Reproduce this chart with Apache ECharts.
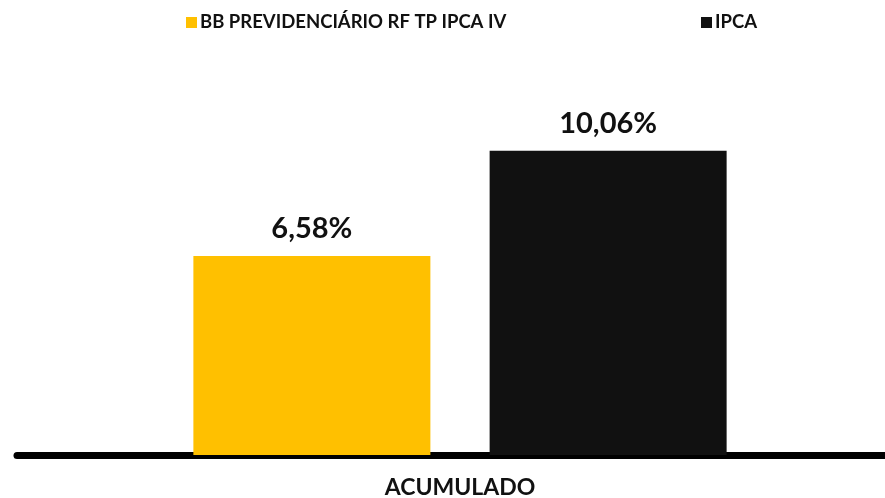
<!DOCTYPE html>
<html>
<head>
<meta charset="utf-8">
<script src="https://cdn.jsdelivr.net/npm/echarts@6/dist/echarts.min.js"></script>
<style>
  html, body { margin: 0; padding: 0; background: #fff; }
  #chart { width: 885px; height: 498px; }
</style>
</head>
<body>
<div id="chart"></div>
<script>
var categories = ["ACUMULADO"];
var seriesNames = ["BB PREVIDENCIÁRIO RF TP IPCA IV", "IPCA"];
var fundValues = [6.58];
var ipcaValues = [10.06];

var myChart = echarts.init(document.getElementById("chart"));
var font = "Lato";

var seriesLabel = {
  show: true,
  position: "top",
  distance: 13,
  color: "#111",
  fontFamily: font,
  fontWeight: "bold",
  fontSize: 29,
  formatter: function (p) {
    return p.value.toFixed(2).replace(".", ",") + "%";
  },
};

var legendText = {
  color: "#111",
  fontFamily: font,
  fontWeight: "bold",
  fontSize: 18.5,
  padding: [0, 0, 0, -2],
};

var option = {
  animation: false,
  legend: [
    {
      data: [seriesNames[0]],
      left: 181,
      top: 8,
      icon: "rect",
      itemWidth: 11,
      itemHeight: 11,
      textStyle: legendText,
    },
    {
      data: [seriesNames[1]],
      left: 696,
      top: 8,
      icon: "rect",
      itemWidth: 11,
      itemHeight: 11,
      textStyle: legendText,
    },
  ],
  grid: {
    left: 17,
    right: -18,
    top: 92,
    bottom: 43,
    outerBoundsMode: "none",
  },
  xAxis: {
    type: "category",
    data: categories,
    axisLine: { lineStyle: { color: "#000", width: 7 } },
    axisTick: { show: false },
    axisLabel: {
      margin: 21,
      color: "#111",
      fontFamily: font,
      fontWeight: "bold",
      fontSize: 23,
    },
  },
  yAxis: {
    type: "value",
    min: 0,
    max: 12,
    show: false,
  },
  series: [
    {
      name: seriesNames[0],
      type: "bar",
      data: fundValues,
      barWidth: 237,
      barGap: "25%",
      itemStyle: { color: "#FFC000" },
      label: seriesLabel,
    },
    {
      name: seriesNames[1],
      type: "bar",
      data: ipcaValues,
      barWidth: 237,
      itemStyle: { color: "#111111" },
      label: seriesLabel,
    },
  ],
};
myChart.setOption(option);
window.addEventListener("resize", function () {
  myChart.resize();
});
</script>
</body>
</html>
